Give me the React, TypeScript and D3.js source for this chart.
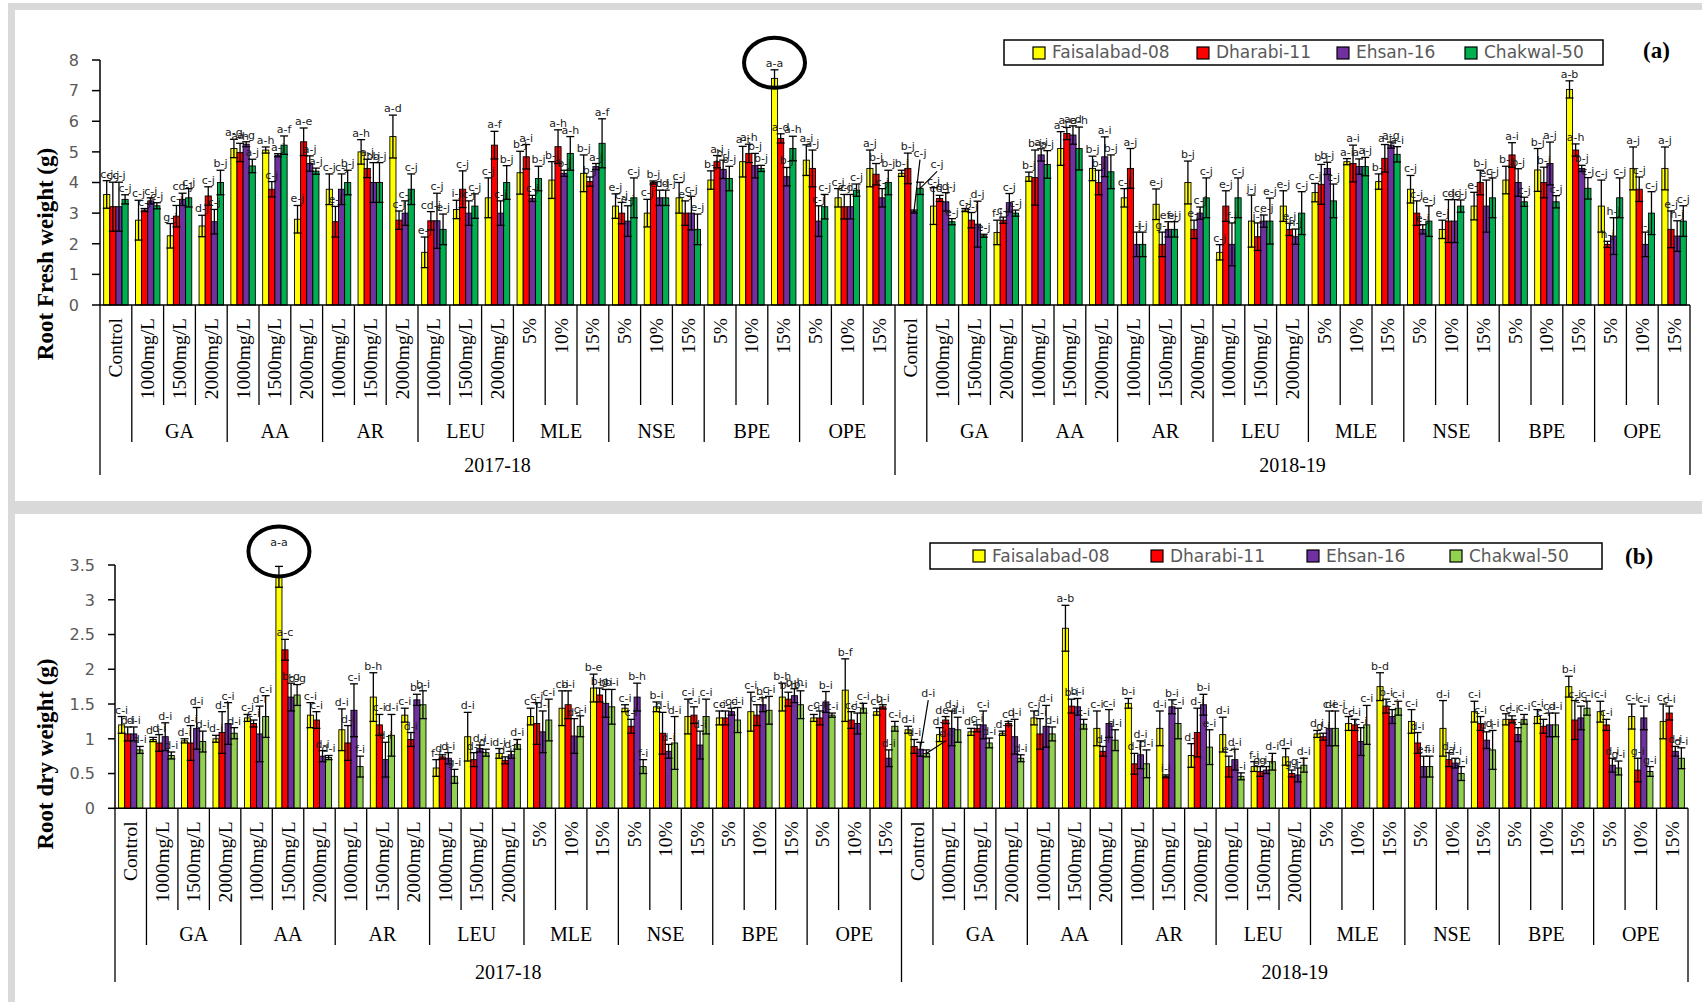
import React from "react";
import * as d3 from "d3";

// ---------- categories ----------
const years = ["2017-18", "2018-19"];
const controlLabel = "Control";
const concTreatments = ["GA", "AA", "AR", "LEU"];
const pctTreatments = ["MLE", "NSE", "BPE", "OPE"];
const concLevels = ["1000mg/L", "1500mg/L", "2000mg/L"];
const pctLevels = ["5%", "10%", "15%"];
const cultivars = ["Faisalabad-08", "Dharabi-11", "Ehsan-16", "Chakwal-50"];
const colorsA = ["#ffff00", "#ff0000", "#7030a0", "#00b050"];
const colorsB = ["#ffff00", "#ff0000", "#7030a0", "#92d050"];
const ticksA = [0, 1, 2, 3, 4, 5, 6, 7, 8];
const ticksB = [0, 0.5, 1, 1.5, 2, 2.5, 3, 3.5];

// ---------- (a) Root fresh weight ----------
const freshF08 = [3.61,2.77,2.26,2.58,5.11,5.06,2.80,3.78,5.00,5.50,1.72,3.12,3.50,4.32,4.08,4.30,3.23,3.00,3.50,4.08,4.68,7.40,4.73,3.50,4.46,
  4.30,3.23,3.10,2.37,4.19,5.11,4.46,3.50,3.29,4.00,1.72,2.74,3.23,3.67,4.68,4.03,3.78,2.47,3.23,4.08,4.41,7.04,3.23,4.46,4.46];
const freshD11 = [3.21,3.10,2.90,3.56,4.98,3.78,5.33,2.72,4.46,2.77,2.75,3.78,5.22,4.84,5.17,4.03,3.00,4.00,3.00,4.68,4.95,5.44,4.46,3.21,4.27,
  4.46,3.48,2.77,2.77,4.16,5.60,4.00,4.46,1.98,2.47,3.23,2.23,2.47,3.94,4.62,4.79,3.00,2.74,4.00,4.90,4.00,5.06,1.98,3.78,2.47];
const freshE16 = [3.21,3.40,3.45,2.72,5.25,4.89,4.62,3.78,4.00,3.00,2.75,3.00,3.00,3.48,4.30,4.52,2.74,3.50,3.00,4.43,4.55,4.19,2.74,3.21,3.50,
  3.05,3.37,2.64,3.34,4.90,5.55,4.84,1.98,2.47,3.00,1.98,2.74,2.23,4.46,4.52,5.22,2.47,2.74,3.23,4.00,4.62,4.46,2.25,1.98,2.25];
const freshC50 = [3.45,3.24,3.50,4.00,4.54,5.22,4.37,4.00,4.00,3.78,2.47,3.23,4.00,4.13,4.95,5.28,3.50,3.50,2.47,4.13,4.46,5.11,3.21,3.75,4.00,
  3.81,2.72,2.26,3.00,4.59,5.11,4.35,1.98,2.47,3.50,3.50,2.74,3.00,3.40,4.52,4.92,2.74,3.23,3.50,3.37,3.37,3.81,3.50,3.00,2.74];
const freshErrF08 = [.45,.65,.4,.35,.3,.1,.45,.5,.4,.7,.5,.3,.65,.7,.6,.6,.4,.45,.5,.3,.5,.28,.5,.3,.6,
  .1,.6,.05,.4,.15,.55,.4,.3,.5,.7,.25,.85,.5,.3,.1,.25,.45,.3,.45,.45,.7,.28,.85,.7,.7];
const freshErrD11 = [.8,.05,.35,.3,.3,.25,.45,.5,.3,.3,.3,.6,.45,.4,.55,.15,.35,.05,.4,.2,.3,.15,.6,.4,.35,
  .5,.1,.25,.1,.9,.2,.4,.65,.4,.3,.5,.45,.2,.65,.6,.45,.4,.7,.4,.4,.5,.2,.1,.4,.6];
const freshErrE16 = [.8,.1,.2,.4,.08,.05,.25,.5,.65,.4,.9,.4,.4,.1,.1,.1,.5,.25,.55,.3,.4,.3,.5,.4,.3,
  .05,.3,.75,.3,.2,.3,.65,.4,.25,.2,.7,.2,.25,.2,.25,.1,.15,.7,.85,.45,.7,.1,.6,.4,.5];
const freshErrC50 = [.15,.1,.3,.4,.22,.3,.1,.4,.65,.5,.5,.4,.55,.4,.55,.8,.65,.25,.5,.4,.1,.4,.4,.2,.4,
  .2,.1,.05,.1,.45,.7,.55,.4,.25,.65,.65,.75,.7,.55,.3,.25,.5,.2,.65,.15,.2,.35,.65,.7,.5];
const freshLblF08 = ["c-j","c-j","g-j","d-j","a-g","a-h","e-j","c-j","a-h","a-d","e-j","i-j","c-j","b-j","b-j","b-j","e-j","c-j","c-j","b-j","a-i","a-a","a-i","c-j","a-j",
  "b-j","c-j","c-j","f-j","b-j","a-i","b-j","c-j","e-j","b-j","c-j","j-j","e-j","c-j","a-i","b-j","c-j","e-j","e-j","b-j","b-j","a-b","c-j","a-j","a-j"];
const freshLblD11 = ["c-j","c-j","c-j","c-j","a-h","c-j","a-e","e-j","a-j","c-j","cd-j","c-j","a-f","a-i","a-h","b-j","c-j","b-j","e-j","a-i","a-h","a-d","a-j","c-j","b-j",
  "b-j","cd-j","c-j","c-j","b-j","a-c","b-j","a-j","g-j","e-j","e-j","j-j","e-j","b-j","a-i","a-i","c-j","c-j","b-j","a-i","b-j","a-h","h-j","c-j","e-j"];
const freshLblE16 = ["c-j","c-j","cd-j","c-j","a-g","a-j","a-j","c-j","b-j","c-j","c-j","c-j","c-j","c-j","b-j","a-j","e-j","cd-j","c-j","b-j","b-j","b-j","c-j","cd-j","c-j",
  "c-j","cd-j","d-j","c-j","a-i","a-d","a-i","i-j","ef-j","c-j","f-j","ce-j","h-j","b-j","a-i","a-g","e-j","d-j","e-j","b-j","a-j","b-j","h-j","i-j","h-j"];
const freshLblC50 = ["c-j","c-j","c-j","b-j","a-j","a-f","a-j","b-j","b-j","c-j","e-j","c-j","b-j","b-j","a-h","a-f","c-j","cd-j","e-j","b-j","b-j","a-h","c-j","c-j","b-j",
  "c-j","e-j","e-j","c-j","a-j","a-h","b-j","i-j","e-j","c-j","c-j","e-j","c-j","c-j","a-j","a-i","e-j","c-j","c-j","c-j","c-j","c-j","c-j","c-j","c-j"];

// ---------- (b) Root dry weight ----------
const dryF08 = [1.20,0.99,0.97,1.00,1.30,3.33,1.34,1.13,1.60,1.34,0.58,1.03,0.79,1.32,1.44,1.73,1.44,1.46,1.32,1.30,1.39,1.60,1.30,1.70,1.39,
  1.13,1.06,1.10,1.08,1.30,2.59,1.15,1.51,1.15,0.76,1.06,0.60,0.74,1.07,1.22,1.75,1.25,1.15,1.39,1.28,1.32,1.75,1.39,1.32,1.25];
const dryD11 = [1.07,0.94,0.94,1.09,1.22,2.28,1.27,0.94,1.20,0.99,0.74,0.70,0.69,1.22,1.49,1.63,1.18,1.08,1.34,1.30,1.34,1.57,1.30,1.27,1.46,
  0.89,1.27,1.15,1.22,1.07,1.47,0.82,0.64,0.46,1.09,0.60,0.53,0.50,1.03,1.20,1.47,0.94,0.70,1.22,1.28,1.18,1.27,1.20,0.55,1.37];
const dryE16 = [1.07,1.03,1.15,1.22,1.07,1.60,0.75,1.41,0.70,1.56,0.72,0.86,0.77,1.10,1.04,1.51,1.60,0.82,0.91,1.39,1.49,1.62,1.53,1.22,0.72,
  0.85,1.15,1.20,1.03,1.18,1.46,1.22,0.77,1.46,1.49,0.70,0.55,0.48,1.15,0.96,1.32,0.60,0.65,0.98,1.06,1.20,1.30,0.62,1.30,0.82];
const dryC50 = [0.84,0.76,0.96,1.08,1.32,1.63,0.73,0.60,1.05,1.49,0.46,0.80,0.92,1.27,1.18,1.46,0.60,0.94,1.32,1.27,1.41,1.49,1.34,1.44,1.18,
  0.79,1.13,0.94,0.72,1.07,1.21,0.98,0.64,1.22,0.88,0.46,0.67,0.62,1.15,1.20,1.44,0.60,0.50,0.84,1.28,1.20,1.44,0.58,0.53,0.72];
const dryErrF08 = [.12,.03,.03,.05,.05,.15,.18,.3,.35,.1,.12,.35,.07,.12,.25,.2,.05,.07,.25,.1,.28,.2,.05,.45,.05,
  .05,.1,.05,.03,.1,.33,.25,.07,.25,.17,.25,.07,.12,.05,.1,.2,.17,.4,.15,.08,.1,.15,.15,.18,.25];
const dryErrD11 = [.1,.12,.25,.3,.05,.15,.12,.25,.15,.1,.03,.1,.05,.3,.2,.1,.1,.3,.12,.1,.15,.1,.1,.12,.03,
  .1,.05,.05,.03,.22,.1,.07,.15,.02,.35,.15,.07,.05,.05,.08,.1,.15,.1,.1,.05,.1,.28,.08,.17,.1];
const dryErrE16 = [.1,.2,.3,.3,.4,.2,.08,.38,.25,.08,.08,.05,.05,.3,.25,.2,.2,.1,.2,.05,.1,.1,.15,.15,.12,
  .1,.25,.2,.25,.3,.12,.2,.2,.1,.15,.15,.05,.1,.25,.2,.1,.15,.07,.12,.1,.17,.17,.1,.17,.07];
const dryErrC50 = [.05,.05,.15,.08,.3,.15,.03,.15,.3,.2,.1,.05,.07,.3,.15,.25,.1,.38,.25,.18,.2,.2,.03,.07,.07,
  .05,.18,.07,.05,.1,.07,.15,.2,.22,.25,.05,.12,.1,.25,.28,.1,.15,.1,.28,.07,.17,.1,.1,.07,.15];
const dryLblF08 = ["c-i","d-i","d-i","d-i","c-i","a-a","c-i","d-i","b-h","c-i","f-i","d-i","d-i","c-i","c-i","b-e","c-i","b-i","c-i","c-i","c-i","b-h","c-i","b-f","c-i",
  "d-i","d-i","d-i","d-i","c-i","a-b","c-i","b-i","d-i","d-i","d-i","f-i","d-i","d-i","c-i","b-d","c-i","d-i","c-i","c-i","c-i","b-i","c-i","c-i","c-i"];
const dryLblD11 = ["d-i","d-i","d-i","d-i","c-i","a-c","c-i","d-i","c-i","d-i","d-i","d-i","d-i","c-i","b-i","b-g","c-i","d-i","c-i","c-i","c-i","b-h","c-i","c-i","b-i",
  "d-i","de-i","c-i","c-i","d-i","b-i","d-i","d-i","i-i","d-i","e-i","g-i","g-i","d-i","c-i","b-i","d-i","d-i","c-i","c-i","c-i","c-i","c-i","g-i","c-i"];
const dryLblE16 = ["d-i","d-i","d-i","c-i","d-i","b-g","d-i","c-i","d-i","b-i","d-i","d-i","d-i","d-i","d-i","b-i","b-h","d-i","d-i","c-i","b-i","b-h","b-i","c-i","d-i",
  "d-i","d-i","c-i","d-i","d-i","b-i","c-i","d-i","b-i","b-i","d-i","g-i","g-i","c-i","c-i","c-i","e-i","d-i","d-i","c-i","c-i","c-i","d-i","c-i","d-i"];
const dryLblC50 = ["d-i","d-i","d-i","d-i","c-i","b-g","d-i","f-i","d-i","b-i","g-i","d-i","d-i","c-i","c-i","b-i","f-i","d-i","c-i","c-i","c-i","b-i","c-i","c-i","c-i",
  "d-i","d-i","d-i","d-i","d-i","c-i","d-i","d-i","c-i","e-i","i-i","d-i","d-i","de-i","c-i","c-i","f-i","g-i","d-i","c-i","d-i","c-i","g-i","g-i","d-i"];

// ---------- build category structure ----------
type Cat = { year: number; treat: string; level: string };
const categories: Cat[] = [];
years.forEach((_, yi) => {
  categories.push({ year: yi, treat: "", level: controlLabel });
  concTreatments.forEach((t) => concLevels.forEach((l) => categories.push({ year: yi, treat: t, level: l })));
  pctTreatments.forEach((t) => pctLevels.forEach((l) => categories.push({ year: yi, treat: t, level: l })));
});

const SERIF = "'Liberation Serif', 'Times New Roman', serif";
const SANS = "'DejaVu Sans', Verdana, sans-serif";

type PanelCfg = {
  x0: number; x1: number; yTop: number; yBottom: number; ymax: number; ticks: number[];
  tickFmt: (v: number) => string; tickLabelX: number; tickLen: number;
  rows: number[]; title: string; titleY: number;
  values: number[][]; errs: number[][]; labels: string[][]; colors: string[];
  legend: { x: number; y: number; w: number; h: number; items: number[]; textY: number; sqY: number };
  tag: string; tagX: number; tagY: number;
  circle: { g: number; s: number; dy: number; lblDy: number };
  leaders: { g: number; s: number; dx: number; dy: number }[];
};

const panels: PanelCfg[] = [
  {
    x0: 100, x1: 1690, yTop: 60, yBottom: 305, ymax: 8, ticks: ticksA, tickFmt: (v) => String(v),
    tickLabelX: 79, tickLen: 8, rows: [305, 405, 442, 475],
    title: "Root  Fresh weight (g)", titleY: 254,
    values: [freshF08, freshD11, freshE16, freshC50],
    errs: [freshErrF08, freshErrD11, freshErrE16, freshErrC50],
    labels: [freshLblF08, freshLblD11, freshLblE16, freshLblC50],
    colors: colorsA,
    legend: { x: 1004, y: 40, w: 599, h: 25, items: [1033, 1197, 1337, 1465], textY: 58, sqY: 47 },
    tag: "(a)", tagX: 1643, tagY: 58,
    circle: { g: 21, s: 0, dy: -7, lblDy: 0 },
    leaders: [{ g: 25, s: 2, dx: 6, dy: -55 }, { g: 25, s: 3, dx: 17, dy: -20 }],
  },
  {
    x0: 115, x1: 1688, yTop: 565, yBottom: 808.3, ymax: 3.5, ticks: ticksB, tickFmt: (v) => String(v),
    tickLabelX: 95, tickLen: 7, rows: [808.3, 910, 945, 982],
    title: "Root  dry weight (g)", titleY: 754,
    values: [dryF08, dryD11, dryE16, dryC50],
    errs: [dryErrF08, dryErrD11, dryErrE16, dryErrC50],
    labels: [dryLblF08, dryLblD11, dryLblE16, dryLblC50],
    colors: colorsB,
    legend: { x: 930, y: 543, w: 672, h: 26, items: [973, 1151, 1307, 1450], textY: 562, sqY: 550 },
    tag: "(b)", tagX: 1625, tagY: 564,
    circle: { g: 5, s: 0, dy: -15, lblDy: -17 },
    leaders: [{ g: 25, s: 2, dx: 8, dy: -52 }, { g: 25, s: 3, dx: 20, dy: -16 }],
  },
];

function Panel({ cfg }: { cfg: PanelCfg }) {
  const n = categories.length;
  const x = d3.scaleBand<number>().domain(d3.range(n)).range([cfg.x0, cfg.x1]).paddingInner(0).paddingOuter(0);
  const fill = 0.77;
  const po = (4 / fill - 4) / 2;
  const inner = d3.scaleBand<number>().domain(d3.range(4)).range([0, x.bandwidth()]).paddingInner(0).paddingOuter(po);
  const y = d3.scaleLinear().domain([0, cfg.ymax]).range([cfg.yBottom, cfg.yTop]);
  const step = x.step();
  const bw = inner.bandwidth();
  const capW = 8;

  // level-2 spans
  type Span = { start: number; end: number; label: string };
  const spans2: Span[] = [];
  categories.forEach((c, i) => {
    const last = spans2[spans2.length - 1];
    const key = c.year + "|" + (c.treat || "ctrl" + i);
    if (last && (last as any).key === key) last.end = i + 1;
    else spans2.push({ start: i, end: i + 1, label: c.treat, key } as any);
  });
  const spans3: Span[] = years.map((yl, yi) => {
    const idx = categories.map((c, i) => (c.year === yi ? i : -1)).filter((i) => i >= 0);
    return { start: idx[0], end: idx[idx.length - 1] + 1, label: yl };
  });
  const b3 = new Set<number>();
  spans3.forEach((s) => { b3.add(s.start); b3.add(s.end); });
  const b2 = new Set<number>();
  spans2.forEach((s) => { b2.add(s.start); b2.add(s.end); });

  const [r0, r1, r2, r3] = cfg.rows;
  const bx = (i: number) => cfg.x0 + step * i;

  const barCx = (g: number, s: number) => (x(g) as number) + (inner(s) as number) + bw / 2;

  const leaderKey = new Map(cfg.leaders.map((l) => [l.g + "-" + l.s, l]));

  return (
    <g>
      {/* y axis */}
      <line x1={cfg.x0} x2={cfg.x0} y1={y(cfg.ymax)} y2={r0} stroke="#000" strokeWidth={1.5} />
      {cfg.ticks.map((t) => (
        <g key={"t" + t}>
          <line x1={cfg.x0 - cfg.tickLen} x2={cfg.x0} y1={y(t)} y2={y(t)} stroke="#000" strokeWidth={1.5} />
          <text x={cfg.tickLabelX} y={y(t)} dy="0.36em" textAnchor="end" fontFamily={SANS} fontSize={16} fill="#595959">
            {cfg.tickFmt(t)}
          </text>
        </g>
      ))}
      <text transform={`translate(45,${cfg.titleY}) rotate(-90)`} textAnchor="middle" dominantBaseline="central"
        fontFamily={SERIF} fontWeight="bold" fontSize={23} fill="#000">{cfg.title}</text>

      {/* bars */}
      {cfg.values.map((vals, s) =>
        vals.map((v, g) => (
          <rect key={`b${s}-${g}`} x={(x(g) as number) + (inner(s) as number)} y={y(v)} width={bw}
            height={y(0) - y(v)} fill={cfg.colors[s]} stroke="#000" strokeWidth={0.9} />
        ))
      )}
      {/* error bars */}
      {cfg.values.map((vals, s) =>
        vals.map((v, g) => {
          const cx = barCx(g, s);
          const e = cfg.errs[s][g];
          const yt = y(v + e), yb = y(Math.max(0, v - e));
          return (
            <g key={`e${s}-${g}`} stroke="#000" strokeWidth={1.3}>
              <line x1={cx} x2={cx} y1={yt} y2={yb} />
              <line x1={cx - capW / 2} x2={cx + capW / 2} y1={yt} y2={yt} />
              <line x1={cx - capW / 2} x2={cx + capW / 2} y1={yb} y2={yb} />
            </g>
          );
        })
      )}
      {/* letter labels */}
      {cfg.labels.map((lbls, s) =>
        lbls.map((l, g) => {
          const cx = barCx(g, s);
          const v = cfg.values[s][g];
          const yt = y(v + cfg.errs[s][g]);
          const ld = leaderKey.get(g + "-" + s);
          if (ld) {
            const lx = cx + ld.dx, ly = y(v) + ld.dy;
            return (
              <g key={`l${s}-${g}`}>
                <line x1={lx} y1={ly + 3} x2={cx} y2={y(v)} stroke="#000" strokeWidth={1.2} />
                <text x={lx} y={ly} textAnchor="middle" fontFamily={SANS} fontSize={11} fill="#1a1a1a">{l}</text>
              </g>
            );
          }
          const extra = cfg.circle.g === g && cfg.circle.s === s ? cfg.circle.lblDy : 0;
          return (
            <text key={`l${s}-${g}`} x={cx} y={yt - 3 + extra} textAnchor="middle" fontFamily={SANS} fontSize={11} fill="#1a1a1a">{l}</text>
          );
        })
      )}
      {/* highlight circle */}
      {(() => {
        const { g, s, dy } = cfg.circle;
        const cx = barCx(g, s);
        const yt = y(cfg.values[s][g] + cfg.errs[s][g]);
        return <ellipse cx={cx} cy={yt + dy} rx={30.5} ry={25} fill="none" stroke="#000" strokeWidth={4} />;
      })()}

      {/* x axis */}
      <line x1={cfg.x0} x2={cfg.x1} y1={r0} y2={r0} stroke="#000" strokeWidth={1.5} />
      {d3.range(n + 1).map((i) => {
        const yEnd = b3.has(i) ? r3 : b2.has(i) ? r2 : r1;
        return <line key={"v" + i} x1={bx(i)} x2={bx(i)} y1={r0} y2={yEnd} stroke="#000" strokeWidth={1.3} />;
      })}
      {categories.map((c, i) => (
        <text key={"c" + i} transform={`translate(${(x(i) as number) + step / 2},${r0 + 13}) rotate(-90)`}
          textAnchor="end" dominantBaseline="central" fontFamily={SERIF} fontSize={19.5} fill="#000">{c.level}</text>
      ))}
      {spans2.filter((s) => s.label).map((s, i) => (
        <text key={"s2" + i} x={(bx(s.start) + bx(s.end)) / 2} y={r2 - 4} textAnchor="middle"
          fontFamily={SERIF} fontSize={20} fill="#000">{s.label}</text>
      ))}
      {spans3.map((s, i) => (
        <text key={"s3" + i} x={(bx(s.start) + bx(s.end)) / 2} y={r3 - 3} textAnchor="middle"
          fontFamily={SERIF} fontSize={20} fill="#000">{s.label}</text>
      ))}

      {/* legend */}
      <rect x={cfg.legend.x} y={cfg.legend.y} width={cfg.legend.w} height={cfg.legend.h} fill="#fff" stroke="#000" strokeWidth={1.5} />
      {cultivars.map((name, s) => (
        <g key={"lg" + s}>
          <rect x={cfg.legend.items[s]} y={cfg.legend.sqY} width={12} height={12} fill={cfg.colors[s]} stroke="#000" strokeWidth={1.2} />
          <text x={cfg.legend.items[s] + 19} y={cfg.legend.textY} fontFamily={SANS} fontSize={17} fill="#595959">{name}</text>
        </g>
      ))}
      <text x={cfg.tagX} y={cfg.tagY} fontFamily={SERIF} fontWeight="bold" fontSize={23} fill="#000">{cfg.tag}</text>
    </g>
  );
}

export default function App() {
  const W = 1702, H = 1002;
  return (
    <svg width={W} height={H} viewBox={`0 0 ${W} ${H}`}
      style={{ position: "absolute", left: 0, top: 0, display: "block", background: "#fff" }}>
      <rect x={0} y={0} width={W} height={H} fill="#fff" />
      {/* gray frames */}
      <rect x={8} y={3} width={W - 8} height={7} fill="#d9d9d9" />
      <rect x={8} y={3} width={7} height={H - 3} fill="#d9d9d9" />
      <rect x={8} y={501} width={W - 8} height={13} fill="#d9d9d9" />
      {panels.map((p, i) => <Panel key={i} cfg={p} />)}
    </svg>
  );
}
